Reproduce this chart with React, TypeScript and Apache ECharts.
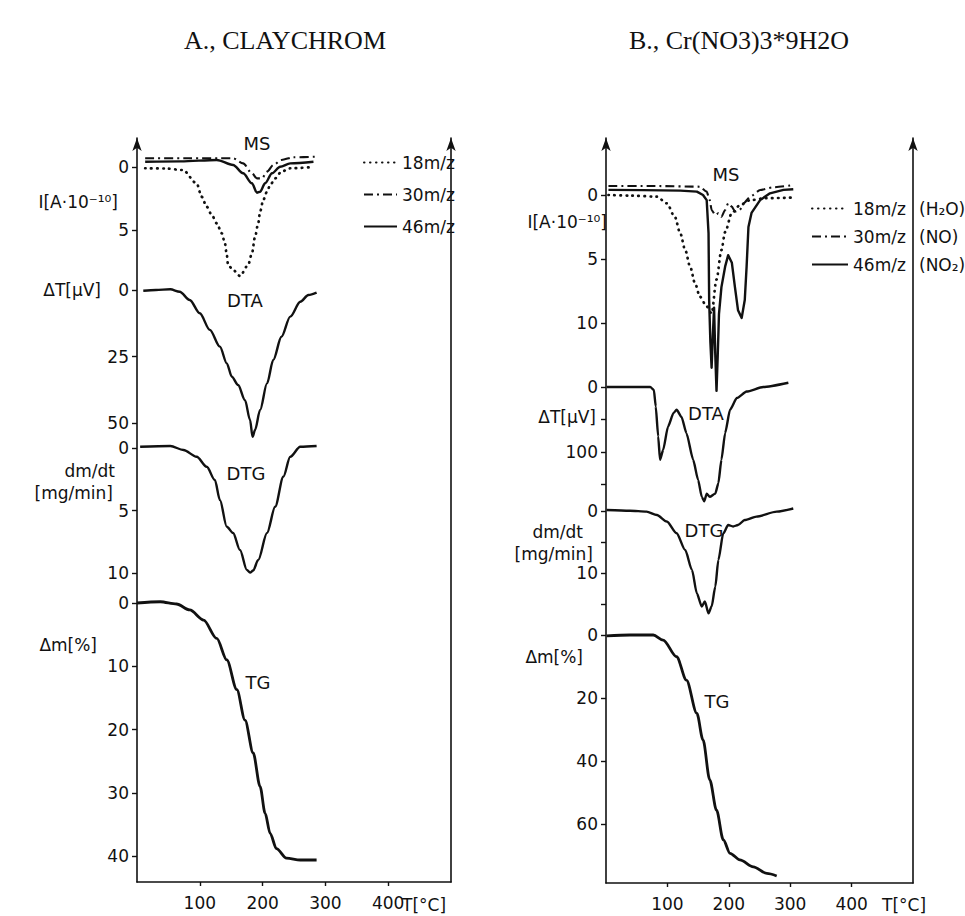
import React, { useEffect, useRef } from 'react';
import * as echarts from 'echarts';

type P = [number, number];

// ---------- DATA (x = temperature in °C) ----------
// Panel A: CLAYCHROM
const msA18: P[] = [[13,0.1],[45,0.12],[73,0.24],[95,1.3],[103,2.36],[111,3.15],[119,3.8],[127,4.47],[135,5.26],[140,6.06],[143,6.98],[145,7.78],[153,8.17],[164,8.65],[177,7.78],[183,6.85],[188,5.53],[193,4.47],[196,3.55],[201,2.62],[207,1.96],[212,1.43],[220,0.9],[230,0.37],[244,0.1],[281,0]];
const msA30: P[] = [[13,-0.69],[80,-0.69],[153,-0.69],[169,-0.29],[183,0.5],[191,0.9],[199,0.9],[207,0.37],[217,-0.16],[230,-0.56],[249,-0.77],[286,-0.82]];
const msA46: P[] = [[13,-0.42],[70,-0.45],[127,-0.56],[153,-0.16],[169,0.5],[183,1.29],[191,2.04],[196,1.96],[204,1.29],[215,0.5],[228,-0.02],[244,-0.29],[281,-0.42]];
const dtaA: P[] = [[10,0.26],[30,0],[53,-0.26],[68,0.64],[84,3.76],[100,8.76],[116,15.0],[132,21.3],[143,27.6],[151,32.6],[161,35.7],[172,41.4],[180,48.9],[184,55.2],[188,52.6],[196,45.1],[207,35.1],[217,26.3],[230,17.6],[244,10.0],[260,4.4],[273,1.9],[286,1.0]];
const dtgA: P[] = [[5,-0.1],[53,-0.16],[74,0.16],[95,0.7],[111,1.5],[124,2.56],[132,4.16],[143,6.3],[153,6.8],[164,8.16],[175,9.76],[180,9.97],[185,9.8],[193,8.96],[207,6.8],[220,4.7],[233,2.3],[244,0.7],[260,-0.1],[286,-0.16]];
const tgA: P[] = [[0,0],[37,-0.2],[63,0.16],[84,1.1],[106,2.7],[127,5.6],[143,9.0],[159,13.7],[172,18.5],[185,23.7],[196,29.0],[204,33.2],[212,36.4],[222,38.8],[238,40.3],[260,40.6],[286,40.6]];

// Panel B: Cr(NO3)3*9H2O
const msB18: P[] = [[4,0],[40,0.05],[83,0.13],[99,0.65],[112,1.7],[121,3.0],[129,4.3],[137,5.6],[145,6.9],[153,7.95],[164,8.7],[172,9.25],[180,6.6],[188,4.3],[194,2.9],[205,1.4],[218,0.8],[235,0.4],[260,0.25],[305,0.2]];
const msB30: P[] = [[4,-0.7],[80,-0.7],[153,-0.65],[164,-0.26],[169,0.4],[172,1.17],[178,1.56],[183,1.43],[188,1.7],[194,1.17],[199,0.65],[205,0.91],[210,1.3],[218,1.17],[224,0.65],[235,0.13],[251,-0.39],[272,-0.6],[305,-0.78]];
const msB46: P[] = [[4,-0.4],[60,-0.38],[121,-0.34],[148,-0.26],[158,0],[164,0.4],[167,3],[168,8.2],[170,11.5],[172,13.5],[174,11],[176,8.8],[178,12.5],[180,15.3],[182,12.5],[184,9.3],[188,7.2],[194,5.6],[199,4.7],[205,5.3],[210,7.2],[215,9.0],[221,9.6],[226,8.2],[229,5.6],[232,2.5],[237,1.4],[251,0.4],[267,-0.13],[289,-0.4],[305,-0.45]];
const dtaB: P[] = [[1,0],[40,0],[72,0],[78,4.6],[81,30],[85,76],[88,112],[93,97],[101,61],[110,40],[115,35],[123,46],[131,71],[142,112],[150,143],[156,169],[160,176],[164,164],[169,169],[178,164],[183,148],[188,112],[194,71],[202,35],[213,17],[229,7],[256,0],[297,-6.6]];
const dtgB: P[] = [[1,-0.16],[39,-0.05],[66,0.1],[83,0.65],[99,1.7],[115,3.6],[129,6.3],[140,9.5],[148,13.3],[156,15.4],[161,14.6],[167,16.5],[172,15.4],[178,12.2],[183,7.9],[191,3.6],[199,2.26],[207,2.5],[215,2.26],[226,1.45],[245,0.9],[278,0.1],[305,-0.4]];
const tgB: P[] = [[1,0.3],[39,0],[77,0],[93,1.6],[115,6.9],[131,14.3],[148,24.9],[158,33.3],[169,46],[180,55.6],[191,65],[202,69.3],[218,71.4],[240,73.6],[262,75.7],[278,76.5]];

// tick labels
const xTicks = [100, 200, 300, 400];
const msTicksA = [0, 5];
const dtaTicksA = [0, 25, 50];
const dtgTicksA = [0, 5, 10];
const tgTicksA = [0, 10, 20, 30, 40];
const msTicksB = [0, 5, 10];
const dtaTicksB = [0, 50, 100, 150];
const dtaLabelsB = [0, 100];
const dtgTicksB = [0, 5, 10, 15];
const dtgLabelsB = [0, 10];
const tgTicksB = [0, 20, 40, 60];

const legendA = ['18m/z', '30m/z', '46m/z'];
const legendB = ['18m/z (H₂O)', '30m/z (NO)', '46m/z (NO₂)'];

// ---------- LAYOUT ----------
const FONT = 'DejaVu Sans';
const INK = '#111';

const frameA = { left: 137, right: 451, top: 138, bottom: 882 };
const frameB = { left: 606, right: 913, top: 138, bottom: 883 };

const subsA = [
  { top: 140, bottom: 285, zero: 167, unit: 12.6, ticks: msTicksA, labels: msTicksA },
  { top: 284, bottom: 443, zero: 290, unit: 2.66, ticks: dtaTicksA, labels: dtaTicksA },
  { top: 443, bottom: 595, zero: 448, unit: 12.5, ticks: dtgTicksA, labels: dtgTicksA },
  { top: 595, bottom: 882, zero: 603, unit: 6.33, ticks: tgTicksA, labels: tgTicksA },
];
const subsB = [
  { top: 140, bottom: 395, zero: 195, unit: 12.8, ticks: msTicksB, labels: msTicksB },
  { top: 380, bottom: 508, zero: 387, unit: 0.65, ticks: dtaTicksB, labels: dtaLabelsB },
  { top: 505, bottom: 628, zero: 511, unit: 6.2, ticks: dtgTicksB, labels: dtgLabelsB },
  { top: 628, bottom: 883, zero: 635, unit: 3.15, ticks: tgTicksB, labels: tgTicksB },
];

const DOT = { type: [0.5, 5.5], cap: 'round', width: 2.7 };
const DASHDOT = { type: [9, 4, 2, 4], width: 2.1 };
const SOLID = { type: 'solid', width: 2.4 };

function buildOption() {
  const grid: any[] = [];
  const xAxis: any[] = [];
  const yAxis: any[] = [];
  const series: any[] = [];

  const addFrame = (f: any) => {
    const gi = grid.length;
    grid.push({ left: f.left, top: f.top, width: f.right - f.left, height: f.bottom - f.top, outerBoundsMode: 'none', containLabel: false });
    xAxis.push({
      gridIndex: gi, type: 'value', min: 0, max: 500,
      axisLine: { show: true, onZero: false, lineStyle: { color: INK, width: 1.6 } },
      axisTick: { show: true, customValues: xTicks, length: 4, lineStyle: { color: INK, width: 1.4 } },
      axisLabel: { show: true, customValues: xTicks, margin: 12, fontFamily: FONT, fontSize: 17, color: INK },
      splitLine: { show: false },
    });
    const yBase = {
      gridIndex: gi, type: 'value', min: 0, max: 1,
      axisLine: { show: true, onZero: false, symbol: ['none', 'arrow'], symbolSize: [7, 13], lineStyle: { color: INK, width: 1.6 } },
      axisTick: { show: false }, axisLabel: { show: false }, splitLine: { show: false },
    };
    yAxis.push({ ...yBase, position: 'left' });
    yAxis.push({ ...yBase, position: 'right' });
  };

  const addSub = (f: any, s: any) => {
    const gi = grid.length;
    grid.push({ left: f.left, top: s.top, width: f.right - f.left, height: s.bottom - s.top, outerBoundsMode: 'none', containLabel: false });
    xAxis.push({ gridIndex: gi, type: 'value', min: 0, max: 500, show: false });
    yAxis.push({
      gridIndex: gi, type: 'value', inverse: true, position: 'left',
      min: (s.top - s.zero) / s.unit, max: (s.bottom - s.zero) / s.unit,
      axisLine: { show: false },
      axisTick: { show: true, customValues: s.ticks, length: 5, lineStyle: { color: INK, width: 1.4 } },
      axisLabel: { show: true, customValues: s.labels, margin: 8, fontFamily: FONT, fontSize: 17, color: INK },
      splitLine: { show: false },
    });
    return { xi: xAxis.length - 1, yi: yAxis.length - 1 };
  };

  const line = (name: string, data: P[], ax: any, st: any, smooth: number | boolean = 0.3) => {
    series.push({
      type: 'line', name, data, xAxisIndex: ax.xi, yAxisIndex: ax.yi,
      symbol: 'none', showSymbol: false, smooth, smoothMonotone: 'x', clip: false, silent: true,
      lineStyle: { color: INK, width: st.width, type: st.type, cap: st.cap || 'butt', join: 'round' },
      itemStyle: { color: INK },
    });
  };

  // Panel A
  addFrame(frameA);
  const aMS = addSub(frameA, subsA[0]);
  const aDTA = addSub(frameA, subsA[1]);
  const aDTG = addSub(frameA, subsA[2]);
  const aTG = addSub(frameA, subsA[3]);
  line(legendA[0], msA18, aMS, DOT);
  line(legendA[1], msA30, aMS, DASHDOT);
  line(legendA[2], msA46, aMS, SOLID);
  line('DTA A', dtaA, aDTA, SOLID);
  line('DTG A', dtgA, aDTG, SOLID);
  line('TG A', tgA, aTG, { type: 'solid', width: 2.8 });

  // Panel B
  addFrame(frameB);
  const bMS = addSub(frameB, subsB[0]);
  const bDTA = addSub(frameB, subsB[1]);
  const bDTG = addSub(frameB, subsB[2]);
  const bTG = addSub(frameB, subsB[3]);
  line(legendB[0], msB18, bMS, DOT);
  line(legendB[1], msB30, bMS, DASHDOT, 0.2);
  line(legendB[2], msB46, bMS, SOLID, false);
  line('DTA B', dtaB, bDTA, SOLID, 0.2);
  line('DTG B', dtgB, bDTG, SOLID, 0.25);
  line('TG B', tgB, bTG, { type: 'solid', width: 2.8 });

  const txt = (text: string, x: number, y: number, align: string, size = 17, family = FONT) => ({
    type: 'text', x, y, silent: true,
    style: { text, fill: INK, font: `${size}px "${family}"`, textAlign: align, textVerticalAlign: 'middle' },
  });

  const graphic = [
    txt('A., CLAYCHROM', 285, 40, 'center', 26, 'Liberation Serif'),
    txt('B., Cr(NO3)3*9H2O', 739, 40, 'center', 26, 'Liberation Serif'),
    // axis names A
    txt('I[A·10⁻¹⁰]', 118, 202, 'right'),
    txt('ΔT[μV]', 101, 290, 'right'),
    txt('dm/dt', 115, 471, 'right'),
    txt('[mg/min]', 113, 493, 'right'),
    txt('Δm[%]', 97, 645, 'right'),
    txt('T[°C]', 402, 905, 'left'),
    // axis names B
    txt('I[A·10⁻¹⁰]', 607, 222, 'right'),
    txt('ΔT[μV]', 596, 417, 'right'),
    txt('dm/dt', 583, 532, 'right'),
    txt('[mg/min]', 593, 554, 'right'),
    txt('Δm[%]', 583, 657, 'right'),
    txt('T[°C]', 882, 905, 'left'),
    // curve labels
    txt('MS', 257, 143, 'center', 18),
    txt('DTA', 245, 300, 'center', 18),
    txt('DTG', 246, 473, 'center', 18),
    txt('TG', 258, 682, 'center', 18),
    txt('MS', 726, 174, 'center', 18),
    txt('DTA', 706, 413, 'center', 18),
    txt('DTG', 704, 530, 'center', 18),
    txt('TG', 717, 701, 'center', 18),
  ];

  const legTxt = { fontFamily: FONT, fontSize: 17, color: INK };
  const hiddenSymbol = { opacity: 0, color: 'rgba(0,0,0,0)', borderWidth: 0 };

  return {
    animation: false,
    backgroundColor: '#ffffff',
    grid, xAxis, yAxis, series, graphic,
    legend: [
      {
        data: legendA, orient: 'vertical', left: 358, top: 149, itemWidth: 33, itemHeight: 14, itemGap: 15,
        selectedMode: false, textStyle: legTxt, itemStyle: hiddenSymbol,
      },
      {
        data: legendB, orient: 'vertical', left: 806, top: 195, itemWidth: 36, itemHeight: 14, itemGap: 11,
        selectedMode: false, itemStyle: hiddenSymbol,
        formatter: (n: string) => {
          const i = n.indexOf(' ');
          return `{a|${n.slice(0, i)}}{b|${n.slice(i + 1)}}`;
        },
        textStyle: { ...legTxt, rich: { a: { ...legTxt, width: 66 }, b: { ...legTxt } } },
      },
    ],
  };
}

export default function App() {
  const ref = useRef<HTMLDivElement>(null);
  useEffect(() => {
    document.body.style.margin = '0';
    const chart = echarts.init(ref.current as HTMLDivElement, null, { renderer: 'svg' });
    chart.setOption(buildOption() as any);
    return () => chart.dispose();
  }, []);
  return <div ref={ref} style={{ width: 965, height: 916 }} />;
}
